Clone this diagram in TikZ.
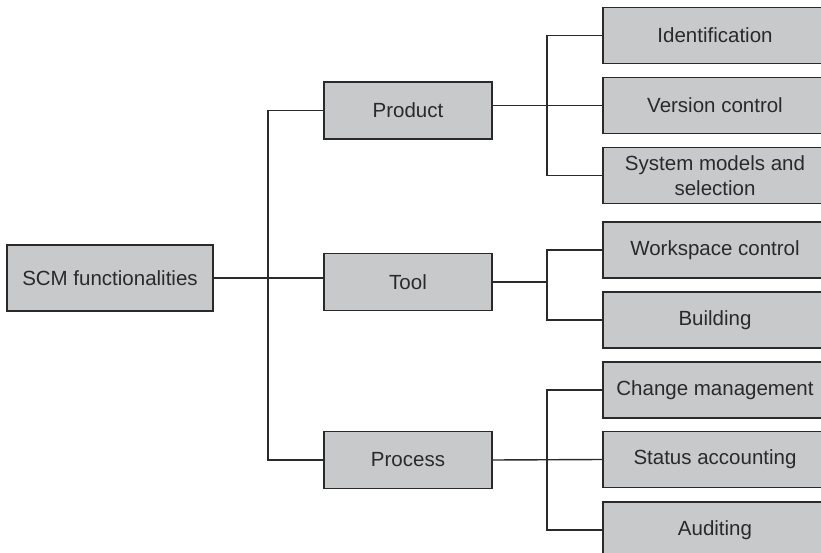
\documentclass[tikz,border=0pt]{standalone}
\usepackage{fontspec}
\setmainfont{Liberation Sans}
\definecolor{boxfill}{HTML}{C8C9CB}
\definecolor{ink}{HTML}{2A2A2A}
\begin{document}
\begin{tikzpicture}[x=1pt,y=-1pt,
  box/.style={draw=ink,line width=1.4pt,fill=boxfill,text=ink,inner sep=0pt,
    font=\fontsize{20.5}{24.6}\selectfont,align=center},
  leftbox/.style={box,minimum width=206pt,minimum height=66pt},
  midbox/.style={box,minimum width=168pt,minimum height=57pt},
  rightbox/.style={box,minimum width=224pt,minimum height=56pt},
  link/.style={draw=ink,line width=1.4pt}]
\useasboundingbox (0,0) rectangle (821,553);
\clip (0,0) rectangle (821,553);
\node[leftbox] (scm) at (110,278) {SCM functionalities};
\node[midbox] (product) at (408,110.5) {Product};
\node[midbox] (tool) at (408,282) {Tool};
\node[midbox] (process) at (408,460) {Process};
\node[rightbox] (ident) at (715,35.5) {Identification};
\node[rightbox] (version) at (715,105.5) {Version control};
\node[rightbox] (sys) at (715,175.5) {System models and\\selection};
\node[rightbox] (work) at (715,250) {Workspace control};
\node[rightbox] (build) at (715,320) {Building};
\node[rightbox] (change) at (715,390) {Change management};
\node[rightbox] (status) at (715,459.5) {Status accounting};
\node[rightbox] (audit) at (715,530) {Auditing};
\coordinate (tr) at (268,278);
\coordinate (b1) at (547,106);
\coordinate (b2) at (547,282);
\coordinate (b3) at (547,460);
% trunk
\draw[link] (product.west) -| (tr) |- (process.west);
\draw[link] (scm.east) -- (scm.east -| tool.west);
% product branch
\draw[link] (ident.west) -| (b1) |- (sys.west);
\draw[link] (product.east |- version.west) -- (version.west);
% tool branch
\draw[link] (work.west) -| (b2) |- (build.west);
\draw[link] (tool.east) -- (b2);
% process branch
\draw[link] (change.west) -| (b3) |- (audit.west);
\draw[link] (process.east) -- (status.west);
\end{tikzpicture}
\end{document}
